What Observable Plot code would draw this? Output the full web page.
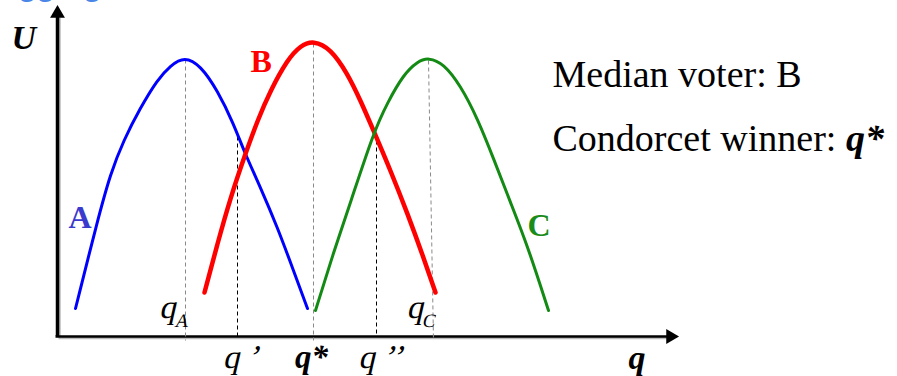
<!DOCTYPE html>
<html>
<head>
<meta charset="utf-8">
<script src="https://cdn.jsdelivr.net/npm/d3@7"></script>
<script src="https://cdn.jsdelivr.net/npm/@observablehq/plot@0.6"></script>
<style>
  html, body { margin: 0; padding: 0; background: #fff; }
  #chart svg { display: block; }
  #chart text { font-family: "Liberation Serif", "Times New Roman", serif; }
  #chart .head text { font-family: "Liberation Sans", Arial, sans-serif; }
</style>
</head>
<body>
<div id="chart"></div>
<script>
// ---- Data (q = policy position, U = utility) ----
const voterA_q = [18, 40, 53, 66, 83, 100, 113, 127, 143, 160, 176, 187, 203, 220, 236, 250];
const voterA_U = [28, 116, 163, 196, 229, 257, 271, 280, 271, 246, 213, 184, 149, 109, 66, 28];

const voterB_q = [147, 160, 173, 188, 200, 213, 230, 243, 256, 273, 290, 303, 316, 333, 350, 366, 378];
const voterB_U = [44, 93, 139, 183, 216, 246, 277, 291, 296, 288, 263, 236, 206, 166, 123, 79, 44];

const voterC_q = [258, 276, 293, 316, 330, 346, 360, 371, 386, 403, 420, 436, 453, 470, 491];
const voterC_U = [26, 84, 134, 204, 234, 262, 275, 279, 273, 251, 218, 178, 134, 91, 26];

// reference positions on the q axis
const guideNames = ["qA", "q'", "q*", "q''", "qC"];
const guideTopQ  = [128, 180, 256, 319, 371];
const guideBotQ  = [128, 180, 256, 319, 376];
const guideTopU  = [277, 200, 293, 203, 276];
const guideKind  = ["peak", "cut", "peak", "cut", "peak"];

// labels on the q axis
const primeLabels = ["q ’", "q ’’"];
const primeLabelQ = [183, 323];
const starLabel = "q*";
const starLabelQ = 254;
const peakLabels = ["q_A", "q_C"];
const peakLabelQ = [117, 364];

// voter names
const voterNames = ["A", "B", "C"];
const voterNameQ = [11, 193, 470];
const voterNameU = [109, 265, 101];
const voterLabelColors = ["#3a3acd", "#ff0000", "#1a8c1a"];
const voterLineColors = ["#0000ff", "#ff0000", "#138a13"];

// build tables
const curve = (qs, us, voter) => qs.map((q, i) => ({q, U: us[i], voter}));
const curves = [
  ...curve(voterA_q, voterA_U, "A"),
  ...curve(voterB_q, voterB_U, "B"),
  ...curve(voterC_q, voterC_U, "C")
];
const guides = guideNames.map((n, i) => ({
  name: n, q1: guideTopQ[i], q2: guideBotQ[i], U1: guideTopU[i],
  U2: guideKind[i] === "peak" ? -4 : 0, kind: guideKind[i]
}));
const names = voterNames.map((t, i) => ({t, q: voterNameQ[i], U: voterNameU[i]}));

const chart = Plot.plot({
  width: 897,
  height: 376,
  margin: 0,
  x: {domain: [0, 618], range: [57, 675], axis: null},
  y: {domain: [0, 328], range: [336, 8], axis: null},
  style: {background: "#fff"},
  marks: [
    // partially visible heading at top (cut off in the reference too)
    Plot.text(["Aggregation of Prefs."], {frameAnchor: "top-left", dx: -4, dy: -5, textAnchor: "start", lineAnchor: "bottom",
      fontSize: 30, fontWeight: "bold", fill: "#4a86e8", className: "head"}),
    // axes (shadow + line)
    Plot.ruleX([0], {y1: 0, y2: 320, stroke: "#bbb", strokeWidth: 3.5, dx: 1.5, dy: 1.5}),
    Plot.ruleY([0], {x1: 0, x2: 612, stroke: "#bbb", strokeWidth: 2.5, dx: 1.5, dy: 1.5}),
    Plot.ruleX([0], {y1: 0, y2: 320, stroke: "#000", strokeWidth: 3.5}),
    Plot.ruleY([0], {x1: -1.5, x2: 612, stroke: "#000", strokeWidth: 2.5}),
    Plot.dot([{q: 0, U: 323}], {x: "q", y: "U", symbol: "triangle", r: 5.5, fill: "#000", stroke: "none"}),
    Plot.dot([{q: 613, U: 0}], {x: "q", y: "U", symbol: "triangle", r: 5.5, fill: "#000", stroke: "none", rotate: 90}),
    // dashed guides
    Plot.link(guides.filter(d => d.kind === "peak"), {x1: "q1", y1: "U1", x2: "q2", y2: "U2",
      stroke: "#8a8a8a", strokeWidth: 1, strokeDasharray: "4,3"}),
    Plot.link(guides.filter(d => d.kind === "cut"), {x1: "q1", y1: "U1", x2: "q2", y2: "U2",
      stroke: "#000", strokeWidth: 1, strokeDasharray: "4,3"}),
    // utility curves
    Plot.line(curves.filter(d => d.voter === "A"), {x: "q", y: "U", stroke: voterLineColors[0], strokeWidth: 3, curve: "basis"}),
    Plot.line(curves.filter(d => d.voter === "B"), {x: "q", y: "U", stroke: voterLineColors[1], strokeWidth: 4.5, curve: "basis"}),
    Plot.line(curves.filter(d => d.voter === "C"), {x: "q", y: "U", stroke: voterLineColors[2], strokeWidth: 3, curve: "basis"}),
    // voter name labels
    Plot.text(names, {
      x: "q", y: "U", text: "t", textAnchor: "start", lineAnchor: "bottom",
      fontSize: 32, fontWeight: "bold", fill: d => voterLabelColors[voterNames.indexOf(d.t)]}),
    // U axis label
    Plot.text(["U"], {x: -46, y: 288, textAnchor: "start", lineAnchor: "bottom", fontSize: 34, fontWeight: "bold", fontStyle: "italic", fill: "#000"}),
    // q axis label
    Plot.text(["q"], {x: 571, y: -32, textAnchor: "start", lineAnchor: "bottom", fontSize: 34, fontWeight: "bold", fontStyle: "italic", fill: "#000"}),
    // labels under the axis (italic imitated by a slant of the serif face)
    Plot.text(primeLabels.map((t, i) => ({t, q: primeLabelQ[i]})), {
      x: "q", y: () => -31, text: "t", textAnchor: "middle", lineAnchor: "bottom",
      fontSize: 33, fill: "#000", className: "slant"}),
    Plot.text([{t: starLabel, q: starLabelQ}], {
      x: "q", y: () => -31, text: "t", textAnchor: "middle", lineAnchor: "bottom",
      fontSize: 33, fontStyle: "italic", fontWeight: "bold", fill: "#000"}),
    // peak labels (subscripted)
    Plot.text(peakLabels.map((t, i) => ({t, q: peakLabelQ[i]})), {
      x: "q", y: () => 19, text: "t", textAnchor: "middle", lineAnchor: "bottom",
      fontSize: 33, fill: "#000", className: "slant"}),
    // right-hand statements
    Plot.text(["Median voter: B", "Condorcet winner: q*"], {
      x: () => 495, y: (d, i) => i === 0 ? 250 : 186, text: d => d, textAnchor: "start", lineAnchor: "bottom",
      fontSize: 38, fill: "#000"})
  ]
});

document.getElementById("chart").appendChild(chart);

// rich text post-processing: subscripts, bold-italic q*, slanted labels
d3.select(chart).selectAll("text").each(function() {
  const el = d3.select(this);
  const txt = this.textContent;
  if (/^q_[A-Z]$/.test(txt)) {
    const sub = txt.split("_")[1];
    el.text(null);
    el.append("tspan").text("q");
    el.append("tspan").attr("font-size", 19).attr("dx", 1).attr("dy", 9).text(sub);
  } else if (txt === "Condorcet winner: q*") {
    el.text(null);
    el.append("tspan").text("Condorcet winner: ");
    el.append("tspan").attr("font-weight", "bold").attr("font-style", "italic").text("q*");
  }
});
d3.select(chart).selectAll(".slant text").each(function() {
  const t = this.getAttribute("transform") || "";
  this.setAttribute("transform", t + " skewX(-13)");
});
</script>
</body>
</html>
